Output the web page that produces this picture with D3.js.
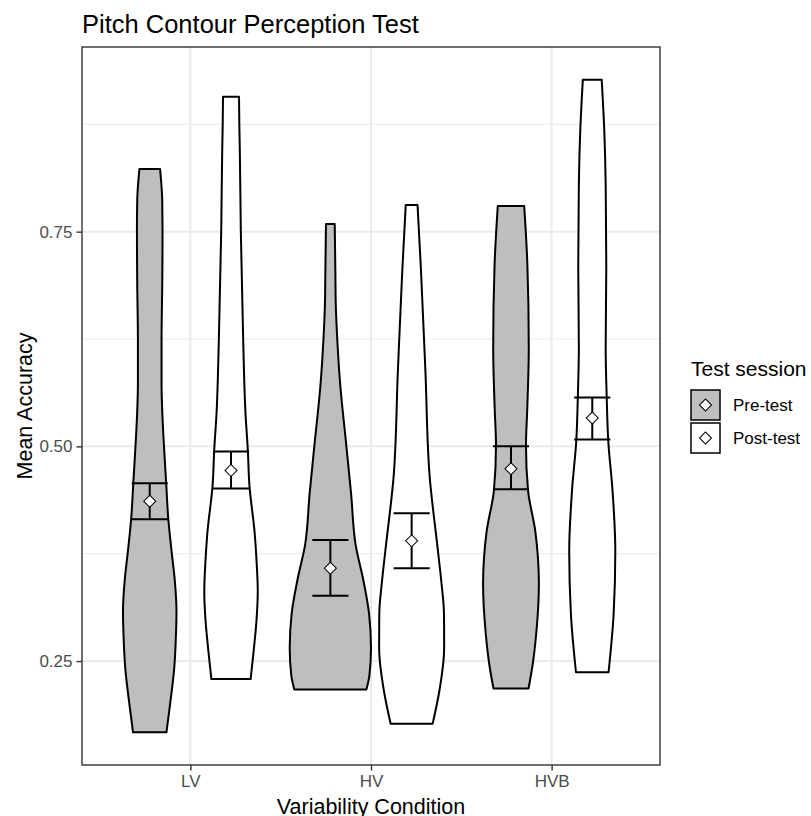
<!DOCTYPE html>
<html>
<head>
<meta charset="utf-8">
<script src="https://cdn.jsdelivr.net/npm/d3@7"></script>
<style>
  html, body { margin: 0; padding: 0; background: #fff; }
  svg { display: block; font-family: "Liberation Sans", Arial, sans-serif; }
</style>
</head>
<body>
<svg id="chart" width="811" height="816"></svg>
<script>
// ---------- data ----------
const categories = ["LV", "HV", "HVB"];
const sessions = ["Pre-test", "Post-test"];
const yTicks = [0.25, 0.50, 0.75];
const yMinorTicks = [0.125, 0.375, 0.625, 0.875];

// violin density profiles: [accuracy value, relative density (max = 1)]
const lvPre = [[0.823,0.254],[0.786,0.308],[0.751,0.315],[0.690,0.308],[0.623,0.291],[0.573,0.291],[0.533,0.315],[0.495,0.357],[0.456,0.406],[0.416,0.456],[0.376,0.542],[0.344,0.616],[0.309,0.658],[0.274,0.640],[0.242,0.603],[0.197,0.493],[0.167,0.411]];
const lvPost = [[0.907,0.197],[0.876,0.204],[0.844,0.217],[0.751,0.241],[0.623,0.300],[0.538,0.357],[0.495,0.414],[0.456,0.451],[0.398,0.584],[0.367,0.628],[0.331,0.658],[0.298,0.628],[0.264,0.562],[0.229,0.483]];
const hvPre = [[0.759,0.108],[0.704,0.123],[0.666,0.133],[0.623,0.172],[0.570,0.246],[0.506,0.382],[0.445,0.510],[0.385,0.623],[0.345,0.808],[0.305,0.953],[0.265,1.000],[0.233,0.961],[0.217,0.887]];
const hvPost = [[0.781,0.145],[0.706,0.229],[0.586,0.340],[0.465,0.443],[0.385,0.631],[0.344,0.727],[0.305,0.796],[0.265,0.800],[0.216,0.685],[0.177,0.517]];
const hvbPre = [[0.780,0.325],[0.711,0.404],[0.615,0.438],[0.544,0.401],[0.501,0.369],[0.449,0.419],[0.401,0.599],[0.340,0.687],[0.283,0.623],[0.244,0.527],[0.218,0.431]];
const hvbPost = [[0.927,0.232],[0.867,0.296],[0.806,0.330],[0.710,0.345],[0.615,0.330],[0.558,0.355],[0.506,0.394],[0.449,0.498],[0.378,0.567],[0.306,0.527],[0.237,0.401]];
const violins = [[lvPre, lvPost], [hvPre, hvPost], [hvbPre, hvbPost]];

// summary per category: [pre, post]
const meanValues  = [[0.436, 0.472], [0.358, 0.390], [0.474, 0.533]];
const lowerValues = [[0.415, 0.451], [0.326, 0.358], [0.450, 0.508]];
const upperValues = [[0.457, 0.494], [0.391, 0.422], [0.500, 0.557]];

const sessionFills = ["#BEBEBE", "#FFFFFF"];

// ---------- layout ----------
const svg = d3.select("#chart");
const panel = { left: 82, right: 660, top: 47, bottom: 765 };

const allVals = violins.flat(2).map(d => d[0]);
const vMin = d3.min(allVals), vMax = d3.max(allVals);
const pad = (vMax - vMin) * 0.05;
const y = d3.scaleLinear().domain([vMin - pad, vMax + pad]).range([panel.bottom, panel.top]);
const x = d3.scalePoint().domain(categories).range([panel.left, panel.right]).padding(0.6);
const step = x.step();
const dodge = d3.scaleBand().domain(sessions).range([-0.45 * step, 0.45 * step]);
const halfW = d3.scaleLinear().domain([0, 1]).range([0, dodge.bandwidth() / 2]);
const cx = (ci, si) => x(categories[ci]) + dodge(sessions[si]) + dodge.bandwidth() / 2;

// ---------- grid ----------
const grid = svg.append("g");
grid.selectAll(".minor").data(yMinorTicks.filter(t => y(t) > panel.top && y(t) < panel.bottom))
  .enter().append("line")
  .attr("x1", panel.left).attr("x2", panel.right)
  .attr("y1", d => y(d)).attr("y2", d => y(d))
  .attr("stroke", "#EBEBEB").attr("stroke-width", 1);
grid.selectAll(".major").data(yTicks).enter().append("line")
  .attr("x1", panel.left).attr("x2", panel.right)
  .attr("y1", d => y(d)).attr("y2", d => y(d))
  .attr("stroke", "#EBEBEB").attr("stroke-width", 2);
grid.selectAll(".vmajor").data(categories).enter().append("line")
  .attr("x1", d => x(d)).attr("x2", d => x(d))
  .attr("y1", panel.top).attr("y2", panel.bottom)
  .attr("stroke", "#EBEBEB").attr("stroke-width", 2);

// ---------- violins ----------
const vg = svg.append("g");
violins.forEach((pair, ci) => {
  pair.forEach((prof, si) => {
    const c = cx(ci, si);
    const area = d3.area()
      .y(d => y(d[0]))
      .x0(d => c - halfW(d[1]))
      .x1(d => c + halfW(d[1]))
      .curve(d3.curveMonotoneY);
    vg.append("path")
      .attr("d", area(prof))
      .attr("fill", sessionFills[si])
      .attr("stroke", "#000")
      .attr("stroke-width", 2)
      .attr("stroke-linejoin", "round");
  });
});

// ---------- error bars & means ----------
const eg = svg.append("g");
const ebHalf = 0.1 * step;
const diamond = d3.symbol().type(d3.symbolSquare).size(72);
categories.forEach((cat, ci) => {
  sessions.forEach((s, si) => {
    const c = cx(ci, si);
    const lo = y(lowerValues[ci][si]), hi = y(upperValues[ci][si]);
    eg.append("line").attr("x1", c).attr("x2", c).attr("y1", lo).attr("y2", hi)
      .attr("stroke", "#000").attr("stroke-width", 2);
    [lo, hi].forEach(v => eg.append("line")
      .attr("x1", c - ebHalf).attr("x2", c + ebHalf).attr("y1", v).attr("y2", v)
      .attr("stroke", "#000").attr("stroke-width", 2));
    eg.append("path").attr("d", diamond())
      .attr("transform", `translate(${c},${y(meanValues[ci][si])}) rotate(45)`)
      .attr("fill", "#fff").attr("stroke", "#000").attr("stroke-width", 1);
  });
});

// ---------- panel border ----------
svg.append("rect")
  .attr("x", panel.left).attr("y", panel.top)
  .attr("width", panel.right - panel.left).attr("height", panel.bottom - panel.top)
  .attr("fill", "none").attr("stroke", "#333333").attr("stroke-width", 1.4);

// ---------- axes ----------
const yAxis = svg.append("g").attr("transform", `translate(${panel.left},0)`)
  .call(d3.axisLeft(y).tickValues(yTicks).tickFormat(d3.format(".2f")).tickSize(5.5).tickPadding(4));
yAxis.select(".domain").remove();
yAxis.selectAll(".tick line").attr("stroke", "#333333").attr("stroke-width", 1.4);
yAxis.selectAll(".tick text").attr("fill", "#4D4D4D").style("font-size", "17px")
  .style("font-family", "Liberation Sans, Arial, sans-serif");

const xAxis = svg.append("g").attr("transform", `translate(0,${panel.bottom})`)
  .call(d3.axisBottom(x).tickSize(5.5).tickPadding(4));
xAxis.select(".domain").remove();
xAxis.selectAll(".tick line").attr("stroke", "#333333").attr("stroke-width", 1.4);
xAxis.selectAll(".tick text").attr("fill", "#4D4D4D").style("font-size", "17px")
  .style("font-family", "Liberation Sans, Arial, sans-serif");

// ---------- titles ----------
svg.append("text").attr("x", panel.left).attr("y", 33)
  .style("font-size", "25.5px").attr("fill", "#000").text("Pitch Contour Perception Test");
svg.append("text").attr("x", (panel.left + panel.right) / 2).attr("y", 814)
  .attr("text-anchor", "middle").style("font-size", "21.5px").attr("fill", "#000")
  .text("Variability Condition");
svg.append("text")
  .attr("transform", `translate(32,${(panel.top + panel.bottom) / 2}) rotate(-90)`)
  .attr("text-anchor", "middle").style("font-size", "21.5px").attr("fill", "#000")
  .text("Mean Accuracy");

// ---------- legend ----------
const lg = svg.append("g");
lg.append("text").attr("x", 691).attr("y", 376).style("font-size", "21px").text("Test session");
sessions.forEach((s, i) => {
  const top = 390 + i * 33;
  lg.append("rect").attr("x", 691).attr("y", top).attr("width", 29).attr("height", 30)
    .attr("fill", sessionFills[i]).attr("stroke", "#000").attr("stroke-width", 1.5);
  lg.append("path").attr("d", diamond())
    .attr("transform", `translate(${705.5},${top + 15}) rotate(45)`)
    .attr("fill", "#fff").attr("stroke", "#000").attr("stroke-width", 1);
  lg.append("text").attr("x", 733).attr("y", top + 21).style("font-size", "17px").text(s);
});
</script>
</body>
</html>
